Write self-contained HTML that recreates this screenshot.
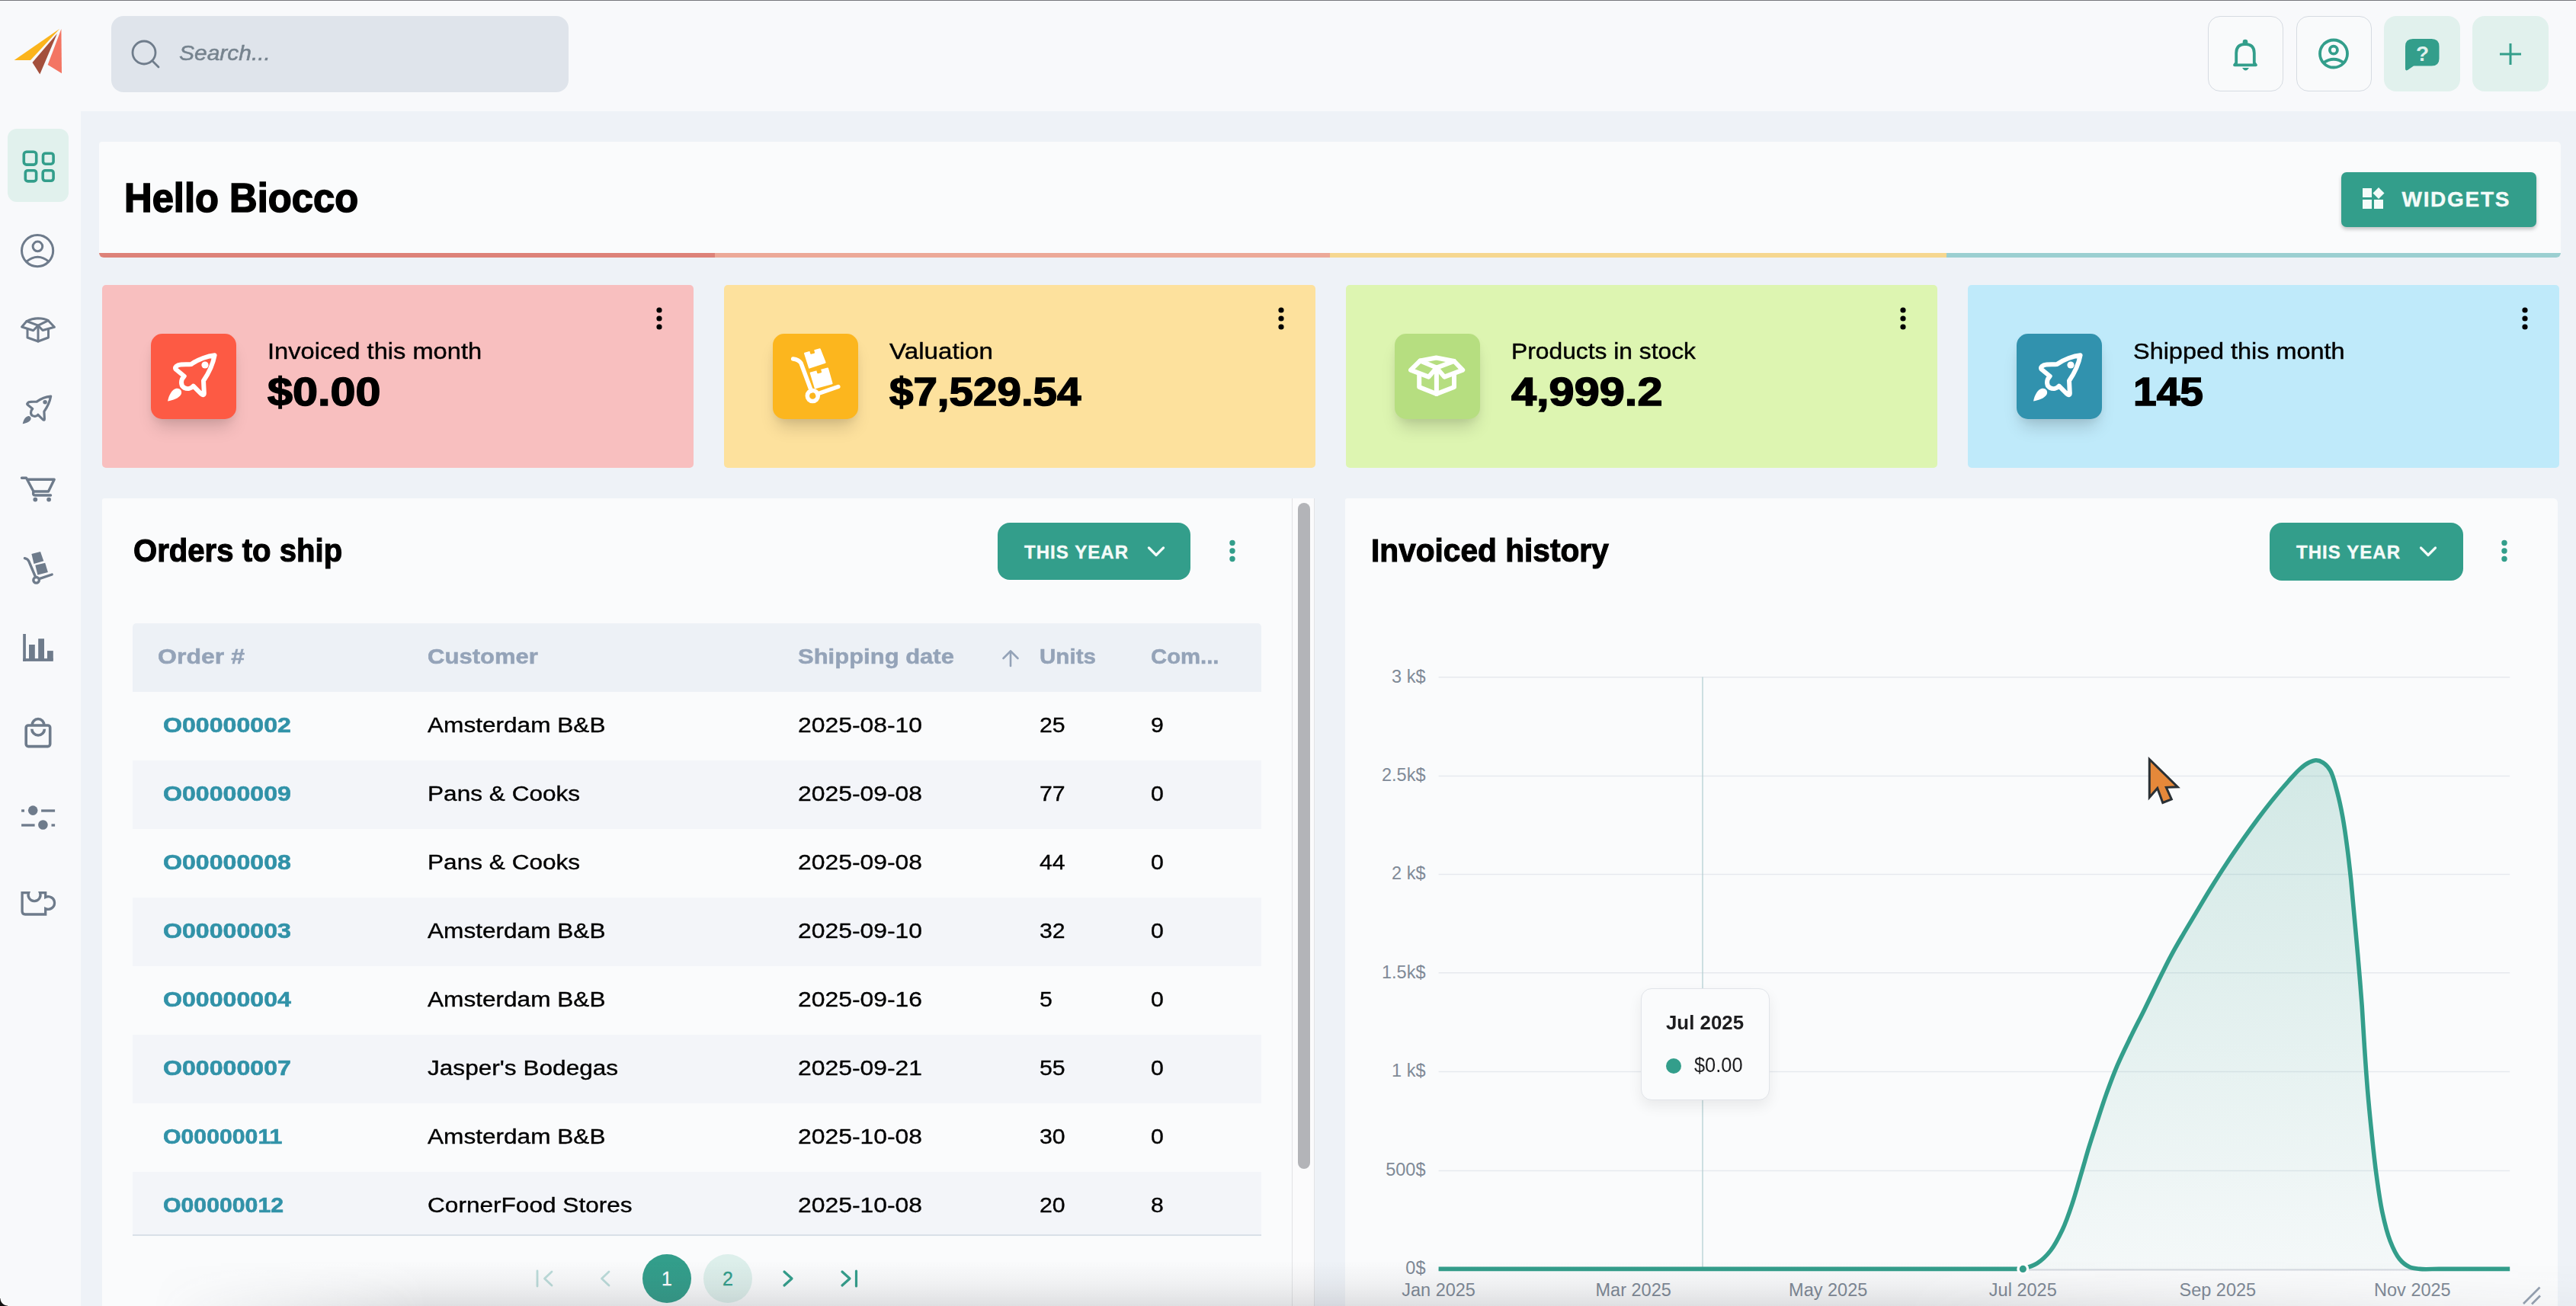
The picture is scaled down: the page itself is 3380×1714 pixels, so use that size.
<!DOCTYPE html><html><head><meta charset="utf-8"><style>
html,body{margin:0;padding:0;width:3380px;height:1714px;overflow:hidden;background:#f8f9fb;font-family:"Liberation Sans",sans-serif;}
.a{position:absolute;}
.t{position:absolute;white-space:nowrap;line-height:1;transform-origin:0 0;}
</style></head><body><div class="a" style="left:0.0px;top:0.0px;width:3380.0px;height:1.2px;background:#77787c"></div>
<div class="a" style="left:106.0px;top:146.0px;width:3274.0px;height:1568.0px;background:#eef2f7"></div>
<svg class="a" style="left:10.0px;top:30.0px;" width="80" height="80" viewBox="0 0 80 80"><polygon points="8.6,49 68.3,7.8 30,49" fill="#fbb41c"/><polygon points="32.5,52 65,14 42.3,67.4" fill="#a34f3c"/><polygon points="52.7,55 70.4,8 71,66.2" fill="#f37563"/></svg>
<div class="a" style="left:146.0px;top:21.0px;width:600.0px;height:100.0px;background:#dfe4eb;border-radius:16px"></div>
<svg class="a" style="left:169.0px;top:50.0px;" width="44" height="44" viewBox="0 0 44 44"><circle cx="20" cy="19" r="15" fill="none" stroke="#6f7c8b" stroke-width="2.8"/><line x1="31" y1="30" x2="39" y2="38" stroke="#6f7c8b" stroke-width="2.8" stroke-linecap="round"/></svg>
<div class="t" style="left:235.0px;top:56.3px;font-size:28px;color:#76838e;font-weight:normal;font-style:italic;transform:scaleX(1.070);-webkit-text-stroke:0.5px #76838e;">Search...</div>
<div class="a" style="left:2897.0px;top:21.0px;width:99.0px;height:99.0px;box-sizing:border-box;border:1.5px solid #d6dbe2;border-radius:16px;background:#f9fafb"></div>
<div class="a" style="left:3013.0px;top:21.0px;width:99.0px;height:99.0px;box-sizing:border-box;border:1.5px solid #d6dbe2;border-radius:16px;background:#f9fafb"></div>
<div class="a" style="left:3128.0px;top:21.0px;width:100.0px;height:99.0px;background:#e1f1ed;border-radius:16px"></div>
<div class="a" style="left:3244.0px;top:21.0px;width:100.0px;height:99.0px;background:#e1f1ed;border-radius:16px"></div>
<svg class="a" style="left:2897.0px;top:21.0px;" width="99" height="99" viewBox="0 0 99 99"><path d="M35 64.3 L37.2 61.5 L37.2 56 L37.2 48.5 Q37.2 37 49 36.8 Q60.8 37 60.8 48.5 L60.8 56 L60.8 61.5 L63 64.3 Z" fill="none" stroke="#339e8b" stroke-width="3.8" stroke-linejoin="round"/><circle cx="49" cy="34" r="3.3" fill="#339e8b"/><path d="M45 68 Q49.5 75 54 68 Z" fill="#339e8b"/></svg>
<svg class="a" style="left:3013.0px;top:21.0px;" width="99" height="99" viewBox="0 0 99 99"><circle cx="49" cy="49.5" r="18" fill="none" stroke="#339e8b" stroke-width="3.8"/><circle cx="48.9" cy="44.7" r="5" fill="none" stroke="#339e8b" stroke-width="3.8"/><path d="M35.5 61.5 Q49 52 62.5 61.5" fill="none" stroke="#339e8b" stroke-width="3.8"/></svg>
<svg class="a" style="left:3128.0px;top:21.0px;" width="100" height="99" viewBox="0 0 100 99"><path d="M28 40 Q28 30 38 30 L62.5 30 Q72.5 30 72.5 40 L72.5 56 Q72.5 65.5 62.5 65.5 L39 65.5 L31 71 Q28 72.5 28 69 Z" fill="#339e8b"/><text x="50.5" y="58.5" font-family="Liberation Sans" font-weight="bold" font-size="28" fill="#e1f1ed" text-anchor="middle">?</text></svg>
<svg class="a" style="left:3244.0px;top:21.0px;" width="100" height="99" viewBox="0 0 100 99"><line x1="36" y1="50" x2="64" y2="50" stroke="#339e8b" stroke-width="3"/><line x1="50" y1="36" x2="50" y2="64" stroke="#339e8b" stroke-width="3"/></svg>
<div class="a" style="left:10.0px;top:169.0px;width:80.0px;height:96.0px;background:#e1f1ed;border-radius:12px"></div>
<svg class="a" style="left:0;top:0" width="106" height="1300" viewBox="0 0 106 1300"><g fill="none" stroke="#339e8b" stroke-width="3.6"><rect x="31.3" y="199.3" width="16.4" height="16.8" rx="3.5"/><rect x="56.5" y="201.2" width="13.6" height="14" rx="3.2"/><rect x="33.3" y="223.7" width="14.3" height="14.2" rx="3.2"/><rect x="56.2" y="223.7" width="13.9" height="13.6" rx="3.2"/></g><g fill="none" stroke="#6e7b8b" stroke-width="3"><circle cx="49.1" cy="329.1" r="20.6"/><circle cx="49.4" cy="323.4" r="6.3"/><path d="M34.5 343.5 Q49.4 331 64.3 343.5"/></g><g fill="none" stroke="#6e7b8b" stroke-width="3" stroke-linejoin="round" stroke-linecap="round"><path d="M28.6 429 L35 421.5 Q42 418 50 417.8 Q58 418 63.3 420.7 L71.4 429.3 L56 433.5 L50 427.2 L43.7 433.7 Z"/><path d="M35 421.5 L50 427.2 L63.3 420.7"/><path d="M36 432.5 L36 443 L50 448 L63.5 443 L63.5 432.5"/><path d="M50 427.2 L50 448"/></g><g transform="translate(16.5 503.1) scale(0.6)"><path d="M83.6 28.3 C75 29 62 33.5 53 40 C49 40.5 43 40 39 40.5 C34 41 31 44 32.5 46.5 L43.7 55.7 C39 60 38.5 68 44 71 C48 73 53 72 55.7 68.6 L66 79 C68 81 70 80.5 69.8 77.5 L69 61.7 C75 53 81 42 83.6 28.3 Z" fill="none" stroke="#6e7b8b" stroke-width="5.3" stroke-linejoin="round"/><circle cx="71" cy="41" r="4.6" fill="#6e7b8b"/><path d="M22 88.5 C23.5 81 27.5 73 33.5 71.8 C38.5 71 41.5 75.5 39.5 79.8 C36.5 85 29 87.2 22 88.5 Z" fill="#6e7b8b"/></g><g fill="none" stroke="#6e7b8b" stroke-width="3.4" stroke-linejoin="round" stroke-linecap="round"><path d="M28.5 627.3 L34.5 627.3 L44 645 L63.5 645 L71.2 629.3 L36 629.3"/><path d="M44 645 Q42.5 650 46 650 L66.5 650"/></g><circle cx="46.3" cy="655.6" r="2.9" fill="#6e7b8b"/><circle cx="64.1" cy="655.6" r="2.9" fill="#6e7b8b"/><g fill="none" stroke="#6e7b8b" stroke-width="3.3" stroke-linecap="round"><path d="M32.4 732.6 Q36.5 733.5 37.8 736.5 L46.5 757"/><circle cx="47.6" cy="761.3" r="3.8"/><path d="M51.5 759.6 L68.2 754"/></g><polygon points="41.4,727 53,724 57.3,736.2 44.5,739.9" fill="#6e7b8b"/><polygon points="46.3,741.7 59.2,738.7 62.9,750.9 49.4,754.6" fill="#6e7b8b"/><g fill="#6e7b8b"><rect x="30.2" y="832" width="3.7" height="36"/><rect x="30.2" y="864.2" width="39.6" height="3.7"/><rect x="38" y="846" width="7.8" height="20"/><rect x="50.2" y="838.2" width="7.8" height="28"/><rect x="62" y="854.1" width="7.8" height="12"/></g><g fill="none" stroke="#6e7b8b" stroke-width="3.6"><rect x="34.2" y="952" width="31.5" height="27.6" rx="3"/><path d="M42 952 A8 8.5 0 0 1 58 952"/><path d="M41.8 956.7 A8.3 8.3 0 0 0 58.4 956.7"/></g><g stroke="#6e7b8b" stroke-width="3.3"><line x1="28.1" y1="1064" x2="32" y2="1064"/><line x1="54.1" y1="1064" x2="72.1" y2="1064"/><line x1="28.1" y1="1083" x2="45.6" y2="1083"/><line x1="67.5" y1="1083" x2="72.1" y2="1083"/></g><circle cx="43.2" cy="1063.6" r="6.3" fill="#6e7b8b"/><circle cx="56.4" cy="1082.5" r="6.3" fill="#6e7b8b"/><path d="M29.1 1171.7 L37.6 1171.7 A8 8 0 1 0 52.5 1171.7 L59.7 1171.7 L59.7 1177.5 A8.3 8.3 0 1 1 59.7 1192.5 L59.7 1200 L33 1200 Q29.1 1200 29.1 1196 Z" fill="none" stroke="#6e7b8b" stroke-width="3.3" stroke-linejoin="miter"/></svg>
<div class="a" style="left:130.0px;top:186.0px;width:3230.0px;height:152.0px;background:#fafbfc;border-radius:4px 5px 6px 6px;overflow:hidden"></div>
<div class="a" style="left:130.0px;top:332.0px;width:808.0px;height:6.0px;background:#dd8279;border-radius:0 0 0 6px"></div>
<div class="a" style="left:938.0px;top:332.0px;width:807.0px;height:6.0px;background:#eca998"></div>
<div class="a" style="left:1745.0px;top:332.0px;width:809.0px;height:6.0px;background:#f6d790"></div>
<div class="a" style="left:2554.0px;top:332.0px;width:806.0px;height:6.0px;background:#9bcfd1;border-radius:0 0 6px 0"></div>
<div class="t" style="left:163.0px;top:233.1px;font-size:53px;color:#000;font-weight:bold;font-style:normal;transform:scaleX(0.957);-webkit-text-stroke:1.6px #000;">Hello Biocco</div>
<div class="a" style="left:3072.0px;top:226.0px;width:256.0px;height:72.0px;background:#339e8b;border-radius:7px;box-shadow:0 3px 5px rgba(0,0,0,0.22)"></div>
<svg class="a" style="left:3100.0px;top:246.0px;" width="29" height="29" viewBox="0 0 29 29"><rect x="0" y="1" width="12" height="12" fill="#f4fbf9"/><rect x="0" y="16" width="12" height="12" fill="#f4fbf9"/><rect x="15" y="16" width="12" height="12" fill="#f4fbf9"/><polygon points="21,0 28.5,7.5 21,15 13.5,7.5" fill="#f4fbf9"/></svg>
<div class="t" style="left:3151.5px;top:247.8px;font-size:28px;color:#f4fbf9;font-weight:bold;font-style:normal;-webkit-text-stroke:0.4px #f4fbf9;letter-spacing:1.7px;">WIDGETS</div>
<div class="a" style="left:134.0px;top:374.0px;width:776.0px;height:240.0px;background:#f8bfbf;border-radius:5px"></div>
<div class="a" style="left:198.0px;top:438.0px;width:112.0px;height:112.0px;background:#fd5a44;border-radius:15px;box-shadow:0 16px 22px -6px rgba(0,0,0,0.17),0 4px 8px rgba(0,0,0,0.04)"></div>
<svg class="a" style="left:198.0px;top:438.0px;" width="112" height="112" viewBox="0 0 112 112"><path d="M83.6 28.3 C75 29 62 33.5 53 40 C49 40.5 43 40 39 40.5 C34 41 31 44 32.5 46.5 L43.7 55.7 C39 60 38.5 68 44 71 C48 73 53 72 55.7 68.6 L66 79 C68 81 70 80.5 69.8 77.5 L69 61.7 C75 53 81 42 83.6 28.3 Z" fill="none" stroke="#fff" stroke-width="6" stroke-linejoin="round"/><circle cx="71" cy="41" r="4.6" fill="#fff"/><path d="M22 88.5 C23.5 81 27.5 73 33.5 71.8 C38.5 71 41.5 75.5 39.5 79.8 C36.5 85 29 87.2 22 88.5 Z" fill="#fff"/></svg>
<div class="t" style="left:351.0px;top:446.5px;font-size:29px;color:#000;font-weight:normal;font-style:normal;transform:scaleX(1.125);-webkit-text-stroke:0.4px #000;">Invoiced this month</div>
<div class="t" style="left:351.0px;top:488.0px;font-size:52px;color:#000;font-weight:bold;font-style:normal;transform:scaleX(1.141);-webkit-text-stroke:1.5px #000;">$0.00</div>
<svg class="a" style="left:859.0px;top:403.0px;" width="12" height="30" viewBox="0 0 12 30"><circle cx="6" cy="4" r="3.6" fill="#000"/><circle cx="6" cy="15" r="3.6" fill="#000"/><circle cx="6" cy="26" r="3.6" fill="#000"/></svg>
<div class="a" style="left:950.0px;top:374.0px;width:776.0px;height:240.0px;background:#fde19d;border-radius:5px"></div>
<div class="a" style="left:1014.0px;top:438.0px;width:112.0px;height:112.0px;background:#fcb61e;border-radius:15px;box-shadow:0 16px 22px -6px rgba(0,0,0,0.17),0 4px 8px rgba(0,0,0,0.04)"></div>
<svg class="a" style="left:1014.0px;top:438.0px;" width="112" height="112" viewBox="0 0 112 112"><g fill="none" stroke="#fff" stroke-width="5.5" stroke-linecap="round"><path d="M26.6 33 Q34 34 37 38.5 L50.5 75"/><circle cx="52.3" cy="81.5" r="7"/><path d="M58.5 79 L85.8 69.5"/></g><polygon points="42,25.7 61.7,20.2 68.6,37.7 48,44.6" fill="#fff" stroke="#fff" stroke-width="2" stroke-linejoin="round"/><polygon points="49.7,51.5 72,45.5 77.6,65.2 55.7,71.2" fill="#fff" stroke="#fff" stroke-width="2" stroke-linejoin="round"/><rect x="-3" y="-3" width="6" height="6" rx="1" fill="#fcb61e" transform="translate(51.6 23.3) rotate(-15)"/><rect x="-3" y="-3" width="6" height="6" rx="1" fill="#fcb61e" transform="translate(60.6 48.9) rotate(-15)"/></svg>
<div class="t" style="left:1167.0px;top:446.5px;font-size:29px;color:#000;font-weight:normal;font-style:normal;transform:scaleX(1.145);-webkit-text-stroke:0.4px #000;">Valuation</div>
<div class="t" style="left:1167.0px;top:488.0px;font-size:52px;color:#000;font-weight:bold;font-style:normal;transform:scaleX(1.087);-webkit-text-stroke:1.5px #000;">$7,529.54</div>
<svg class="a" style="left:1675.0px;top:403.0px;" width="12" height="30" viewBox="0 0 12 30"><circle cx="6" cy="4" r="3.6" fill="#000"/><circle cx="6" cy="15" r="3.6" fill="#000"/><circle cx="6" cy="26" r="3.6" fill="#000"/></svg>
<div class="a" style="left:1766.0px;top:374.0px;width:776.0px;height:240.0px;background:#ddf5b1;border-radius:5px"></div>
<div class="a" style="left:1830.0px;top:438.0px;width:112.0px;height:112.0px;background:#b6de80;border-radius:15px;box-shadow:0 16px 22px -6px rgba(0,0,0,0.17),0 4px 8px rgba(0,0,0,0.04)"></div>
<svg class="a" style="left:1830.0px;top:438.0px;" width="112" height="112" viewBox="0 0 112 112"><g fill="none" stroke="#fff" stroke-width="6" stroke-linejoin="round" stroke-linecap="round"><path d="M54.9 44.6 L54.9 78.9"/><path d="M32.2 54 L32.2 70 L54.9 79 L78 70 L78 54"/><path d="M21 47.6 L33.4 35.5 L54.5 31.5 L78 36 L89.2 47.6 L65.2 56.6 L54.9 44.6 L44.6 56.6 Z"/><path d="M33.4 35.5 L54.9 44.6 L78 36"/></g></svg>
<div class="t" style="left:1983.0px;top:446.5px;font-size:29px;color:#000;font-weight:normal;font-style:normal;transform:scaleX(1.096);-webkit-text-stroke:0.4px #000;">Products in stock</div>
<div class="t" style="left:1983.0px;top:488.0px;font-size:52px;color:#000;font-weight:bold;font-style:normal;transform:scaleX(1.144);-webkit-text-stroke:1.5px #000;">4,999.2</div>
<svg class="a" style="left:2491.0px;top:403.0px;" width="12" height="30" viewBox="0 0 12 30"><circle cx="6" cy="4" r="3.6" fill="#000"/><circle cx="6" cy="15" r="3.6" fill="#000"/><circle cx="6" cy="26" r="3.6" fill="#000"/></svg>
<div class="a" style="left:2582.0px;top:374.0px;width:776.0px;height:240.0px;background:#bfeafa;border-radius:5px"></div>
<div class="a" style="left:2646.0px;top:438.0px;width:112.0px;height:112.0px;background:#3192ae;border-radius:15px;box-shadow:0 16px 22px -6px rgba(0,0,0,0.17),0 4px 8px rgba(0,0,0,0.04)"></div>
<svg class="a" style="left:2646.0px;top:438.0px;" width="112" height="112" viewBox="0 0 112 112"><path d="M83.6 28.3 C75 29 62 33.5 53 40 C49 40.5 43 40 39 40.5 C34 41 31 44 32.5 46.5 L43.7 55.7 C39 60 38.5 68 44 71 C48 73 53 72 55.7 68.6 L66 79 C68 81 70 80.5 69.8 77.5 L69 61.7 C75 53 81 42 83.6 28.3 Z" fill="none" stroke="#fff" stroke-width="6" stroke-linejoin="round"/><circle cx="71" cy="41" r="4.6" fill="#fff"/><path d="M22 88.5 C23.5 81 27.5 73 33.5 71.8 C38.5 71 41.5 75.5 39.5 79.8 C36.5 85 29 87.2 22 88.5 Z" fill="#fff"/></svg>
<div class="t" style="left:2799.0px;top:446.5px;font-size:29px;color:#000;font-weight:normal;font-style:normal;transform:scaleX(1.118);-webkit-text-stroke:0.4px #000;">Shipped this month</div>
<div class="t" style="left:2799.0px;top:488.0px;font-size:52px;color:#000;font-weight:bold;font-style:normal;transform:scaleX(1.061);-webkit-text-stroke:1.5px #000;">145</div>
<svg class="a" style="left:3307.0px;top:403.0px;" width="12" height="30" viewBox="0 0 12 30"><circle cx="6" cy="4" r="3.6" fill="#000"/><circle cx="6" cy="15" r="3.6" fill="#000"/><circle cx="6" cy="26" r="3.6" fill="#000"/></svg>
<div class="a" style="left:134.0px;top:654.0px;width:1561.0px;height:1100.0px;background:#fafbfc;border-radius:3px 0 0 0"></div>
<div class="t" style="left:175.4px;top:701.9px;font-size:42px;color:#000;font-weight:bold;font-style:normal;transform:scaleX(0.955);-webkit-text-stroke:1.1px #000;">Orders to ship</div>
<div class="a" style="left:1309.0px;top:686.0px;width:253.0px;height:75.0px;background:#339e8b;border-radius:16px"></div>
<div class="t" style="left:1344.0px;top:713.2px;font-size:24px;color:#f4fbf9;font-weight:bold;font-style:normal;-webkit-text-stroke:0.4px #f4fbf9;letter-spacing:1.05px;">THIS YEAR</div>
<svg class="a" style="left:1504.5px;top:716.0px;" width="24" height="16" viewBox="0 0 24 16"><polyline points="2.5,3 12,12.5 21.5,3" fill="none" stroke="#f4fbf9" stroke-width="3.2" stroke-linecap="round" stroke-linejoin="round"/></svg>
<svg class="a" style="left:1611.0px;top:708.0px;" width="12" height="32" viewBox="0 0 12 32"><circle cx="6" cy="4.5" r="3.7" fill="#339e8b"/><circle cx="6" cy="15" r="3.7" fill="#339e8b"/><circle cx="6" cy="25.5" r="3.7" fill="#339e8b"/></svg>
<div class="a" style="left:174.0px;top:818.0px;width:1481.0px;height:90.0px;background:#edf1f6;border-radius:5px 5px 0 0"></div>
<div class="t" style="left:207.0px;top:848.3px;font-size:28px;color:#94a3b8;font-weight:bold;font-style:normal;transform:scaleX(1.144);-webkit-text-stroke:0.5px #94a3b8;">Order #</div>
<div class="t" style="left:560.5px;top:848.3px;font-size:28px;color:#94a3b8;font-weight:bold;font-style:normal;transform:scaleX(1.109);-webkit-text-stroke:0.5px #94a3b8;">Customer</div>
<div class="t" style="left:1047.4px;top:848.3px;font-size:28px;color:#94a3b8;font-weight:bold;font-style:normal;transform:scaleX(1.107);-webkit-text-stroke:0.5px #94a3b8;">Shipping date</div>
<div class="t" style="left:1364.3px;top:848.3px;font-size:28px;color:#94a3b8;font-weight:bold;font-style:normal;transform:scaleX(1.057);-webkit-text-stroke:0.5px #94a3b8;">Units</div>
<div class="t" style="left:1510.0px;top:848.3px;font-size:28px;color:#94a3b8;font-weight:bold;font-style:normal;transform:scaleX(1.046);-webkit-text-stroke:0.5px #94a3b8;">Com...</div>
<svg class="a" style="left:1312.0px;top:851.0px;" width="28" height="26" viewBox="0 0 28 26"><g fill="none" stroke="#94a3b8" stroke-width="2.6" stroke-linecap="round" stroke-linejoin="round"><line x1="14" y1="4" x2="14" y2="23"/><polyline points="4.5,13 14,3.5 23.5,13"/></g></svg>
<div class="t" style="left:213.9px;top:938.6px;font-size:27px;color:#3192a8;font-weight:bold;font-style:normal;transform:scaleX(1.190);-webkit-text-stroke:0.6px #3192a8;">O00000002</div>
<div class="t" style="left:560.5px;top:938.6px;font-size:27px;color:#000;font-weight:normal;font-style:normal;transform:scaleX(1.170);-webkit-text-stroke:0.35px #000;">Amsterdam B&amp;B</div>
<div class="t" style="left:1047.4px;top:938.6px;font-size:27px;color:#000;font-weight:normal;font-style:normal;transform:scaleX(1.180);-webkit-text-stroke:0.35px #000;">2025-08-10</div>
<div class="t" style="left:1364.3px;top:938.6px;font-size:27px;color:#000;font-weight:normal;font-style:normal;transform:scaleX(1.120);-webkit-text-stroke:0.35px #000;">25</div>
<div class="t" style="left:1510.0px;top:938.6px;font-size:27px;color:#000;font-weight:normal;font-style:normal;transform:scaleX(1.120);-webkit-text-stroke:0.35px #000;">9</div>
<div class="a" style="left:174.0px;top:998.0px;width:1481.0px;height:90.0px;background:#f3f5f9"></div>
<div class="t" style="left:213.9px;top:1028.6px;font-size:27px;color:#3192a8;font-weight:bold;font-style:normal;transform:scaleX(1.190);-webkit-text-stroke:0.6px #3192a8;">O00000009</div>
<div class="t" style="left:560.5px;top:1028.6px;font-size:27px;color:#000;font-weight:normal;font-style:normal;transform:scaleX(1.170);-webkit-text-stroke:0.35px #000;">Pans &amp; Cooks</div>
<div class="t" style="left:1047.4px;top:1028.6px;font-size:27px;color:#000;font-weight:normal;font-style:normal;transform:scaleX(1.180);-webkit-text-stroke:0.35px #000;">2025-09-08</div>
<div class="t" style="left:1364.3px;top:1028.6px;font-size:27px;color:#000;font-weight:normal;font-style:normal;transform:scaleX(1.120);-webkit-text-stroke:0.35px #000;">77</div>
<div class="t" style="left:1510.0px;top:1028.6px;font-size:27px;color:#000;font-weight:normal;font-style:normal;transform:scaleX(1.120);-webkit-text-stroke:0.35px #000;">0</div>
<div class="t" style="left:213.9px;top:1118.6px;font-size:27px;color:#3192a8;font-weight:bold;font-style:normal;transform:scaleX(1.190);-webkit-text-stroke:0.6px #3192a8;">O00000008</div>
<div class="t" style="left:560.5px;top:1118.6px;font-size:27px;color:#000;font-weight:normal;font-style:normal;transform:scaleX(1.170);-webkit-text-stroke:0.35px #000;">Pans &amp; Cooks</div>
<div class="t" style="left:1047.4px;top:1118.6px;font-size:27px;color:#000;font-weight:normal;font-style:normal;transform:scaleX(1.180);-webkit-text-stroke:0.35px #000;">2025-09-08</div>
<div class="t" style="left:1364.3px;top:1118.6px;font-size:27px;color:#000;font-weight:normal;font-style:normal;transform:scaleX(1.120);-webkit-text-stroke:0.35px #000;">44</div>
<div class="t" style="left:1510.0px;top:1118.6px;font-size:27px;color:#000;font-weight:normal;font-style:normal;transform:scaleX(1.120);-webkit-text-stroke:0.35px #000;">0</div>
<div class="a" style="left:174.0px;top:1178.0px;width:1481.0px;height:90.0px;background:#f3f5f9"></div>
<div class="t" style="left:213.9px;top:1208.6px;font-size:27px;color:#3192a8;font-weight:bold;font-style:normal;transform:scaleX(1.190);-webkit-text-stroke:0.6px #3192a8;">O00000003</div>
<div class="t" style="left:560.5px;top:1208.6px;font-size:27px;color:#000;font-weight:normal;font-style:normal;transform:scaleX(1.170);-webkit-text-stroke:0.35px #000;">Amsterdam B&amp;B</div>
<div class="t" style="left:1047.4px;top:1208.6px;font-size:27px;color:#000;font-weight:normal;font-style:normal;transform:scaleX(1.180);-webkit-text-stroke:0.35px #000;">2025-09-10</div>
<div class="t" style="left:1364.3px;top:1208.6px;font-size:27px;color:#000;font-weight:normal;font-style:normal;transform:scaleX(1.120);-webkit-text-stroke:0.35px #000;">32</div>
<div class="t" style="left:1510.0px;top:1208.6px;font-size:27px;color:#000;font-weight:normal;font-style:normal;transform:scaleX(1.120);-webkit-text-stroke:0.35px #000;">0</div>
<div class="t" style="left:213.9px;top:1298.6px;font-size:27px;color:#3192a8;font-weight:bold;font-style:normal;transform:scaleX(1.190);-webkit-text-stroke:0.6px #3192a8;">O00000004</div>
<div class="t" style="left:560.5px;top:1298.6px;font-size:27px;color:#000;font-weight:normal;font-style:normal;transform:scaleX(1.170);-webkit-text-stroke:0.35px #000;">Amsterdam B&amp;B</div>
<div class="t" style="left:1047.4px;top:1298.6px;font-size:27px;color:#000;font-weight:normal;font-style:normal;transform:scaleX(1.180);-webkit-text-stroke:0.35px #000;">2025-09-16</div>
<div class="t" style="left:1364.3px;top:1298.6px;font-size:27px;color:#000;font-weight:normal;font-style:normal;transform:scaleX(1.120);-webkit-text-stroke:0.35px #000;">5</div>
<div class="t" style="left:1510.0px;top:1298.6px;font-size:27px;color:#000;font-weight:normal;font-style:normal;transform:scaleX(1.120);-webkit-text-stroke:0.35px #000;">0</div>
<div class="a" style="left:174.0px;top:1358.0px;width:1481.0px;height:90.0px;background:#f3f5f9"></div>
<div class="t" style="left:213.9px;top:1388.6px;font-size:27px;color:#3192a8;font-weight:bold;font-style:normal;transform:scaleX(1.190);-webkit-text-stroke:0.6px #3192a8;">O00000007</div>
<div class="t" style="left:560.5px;top:1388.6px;font-size:27px;color:#000;font-weight:normal;font-style:normal;transform:scaleX(1.170);-webkit-text-stroke:0.35px #000;">Jasper's Bodegas</div>
<div class="t" style="left:1047.4px;top:1388.6px;font-size:27px;color:#000;font-weight:normal;font-style:normal;transform:scaleX(1.180);-webkit-text-stroke:0.35px #000;">2025-09-21</div>
<div class="t" style="left:1364.3px;top:1388.6px;font-size:27px;color:#000;font-weight:normal;font-style:normal;transform:scaleX(1.120);-webkit-text-stroke:0.35px #000;">55</div>
<div class="t" style="left:1510.0px;top:1388.6px;font-size:27px;color:#000;font-weight:normal;font-style:normal;transform:scaleX(1.120);-webkit-text-stroke:0.35px #000;">0</div>
<div class="t" style="left:213.9px;top:1478.6px;font-size:27px;color:#3192a8;font-weight:bold;font-style:normal;transform:scaleX(1.120);-webkit-text-stroke:0.6px #3192a8;">O00000011</div>
<div class="t" style="left:560.5px;top:1478.6px;font-size:27px;color:#000;font-weight:normal;font-style:normal;transform:scaleX(1.170);-webkit-text-stroke:0.35px #000;">Amsterdam B&amp;B</div>
<div class="t" style="left:1047.4px;top:1478.6px;font-size:27px;color:#000;font-weight:normal;font-style:normal;transform:scaleX(1.180);-webkit-text-stroke:0.35px #000;">2025-10-08</div>
<div class="t" style="left:1364.3px;top:1478.6px;font-size:27px;color:#000;font-weight:normal;font-style:normal;transform:scaleX(1.120);-webkit-text-stroke:0.35px #000;">30</div>
<div class="t" style="left:1510.0px;top:1478.6px;font-size:27px;color:#000;font-weight:normal;font-style:normal;transform:scaleX(1.120);-webkit-text-stroke:0.35px #000;">0</div>
<div class="a" style="left:174.0px;top:1538.0px;width:1481.0px;height:82.0px;background:#f3f5f9"></div>
<div class="t" style="left:213.9px;top:1568.6px;font-size:27px;color:#3192a8;font-weight:bold;font-style:normal;transform:scaleX(1.120);-webkit-text-stroke:0.6px #3192a8;">O00000012</div>
<div class="t" style="left:560.5px;top:1568.6px;font-size:27px;color:#000;font-weight:normal;font-style:normal;transform:scaleX(1.170);-webkit-text-stroke:0.35px #000;">CornerFood Stores</div>
<div class="t" style="left:1047.4px;top:1568.6px;font-size:27px;color:#000;font-weight:normal;font-style:normal;transform:scaleX(1.180);-webkit-text-stroke:0.35px #000;">2025-10-08</div>
<div class="t" style="left:1364.3px;top:1568.6px;font-size:27px;color:#000;font-weight:normal;font-style:normal;transform:scaleX(1.120);-webkit-text-stroke:0.35px #000;">20</div>
<div class="t" style="left:1510.0px;top:1568.6px;font-size:27px;color:#000;font-weight:normal;font-style:normal;transform:scaleX(1.120);-webkit-text-stroke:0.35px #000;">8</div>
<div class="a" style="left:174.0px;top:1620.0px;width:1481.0px;height:2.0px;background:#d9e0e8"></div>
<div class="a" style="left:843.0px;top:1646.0px;width:64.0px;height:64.0px;background:#339e8b;border-radius:50%"></div>
<div class="a" style="left:923.0px;top:1646.0px;width:64.0px;height:64.0px;background:#ddefeb;border-radius:50%"></div>
<div class="t" style="left:843px;top:1665.5px;width:64px;text-align:center;font-size:25px;color:#fff;-webkit-text-stroke:0.3px #fff">1</div>
<div class="t" style="left:923px;top:1665.5px;width:64px;text-align:center;font-size:25px;color:#339e8b;-webkit-text-stroke:0.3px #339e8b">2</div>
<svg class="a" style="left:690.0px;top:1660.0px;" width="450" height="36" viewBox="0 0 450 36"><g fill="none" stroke-width="2.8" stroke-linecap="round" stroke-linejoin="round"><g stroke="#bcdcda"><line x1="15" y1="8" x2="15" y2="28"/><polyline points="34,9 24.5,18 34,27"/><polyline points="109,9 99.5,18 109,27"/></g><g stroke="#339e8b" stroke-width="3.2"><polyline points="339,9 349,18 339,27"/><polyline points="415,9 425,18 415,27"/><line x1="433.5" y1="8" x2="433.5" y2="28"/></g></g></svg>
<div class="a" style="left:1695.0px;top:654.0px;width:30.0px;height:1060.0px;box-sizing:border-box;background:#fbfbfc;border-left:1px solid #e2e3e5;border-right:1px solid #e2e3e5"></div>
<div class="a" style="left:1703.0px;top:660.0px;width:16.0px;height:874.0px;background:#b3b4b8;border-radius:8px"></div>
<div class="a" style="left:1765.0px;top:654.0px;width:1591.0px;height:1100.0px;background:#fafbfc;border-radius:3px 6px 0 0"></div>
<div class="t" style="left:1798.8px;top:702.2px;font-size:42px;color:#000;font-weight:bold;font-style:normal;transform:scaleX(0.968);-webkit-text-stroke:1.1px #000;">Invoiced history</div>
<div class="a" style="left:2978.0px;top:686.0px;width:254.0px;height:76.0px;background:#339e8b;border-radius:16px"></div>
<div class="t" style="left:3013.0px;top:713.2px;font-size:24px;color:#f4fbf9;font-weight:bold;font-style:normal;-webkit-text-stroke:0.4px #f4fbf9;letter-spacing:1.05px;">THIS YEAR</div>
<svg class="a" style="left:3173.5px;top:716.0px;" width="24" height="16" viewBox="0 0 24 16"><polyline points="2.5,3 12,12.5 21.5,3" fill="none" stroke="#f4fbf9" stroke-width="3.2" stroke-linecap="round" stroke-linejoin="round"/></svg>
<svg class="a" style="left:3280.0px;top:708.0px;" width="12" height="32" viewBox="0 0 12 32"><circle cx="6" cy="4.5" r="3.7" fill="#339e8b"/><circle cx="6" cy="15" r="3.7" fill="#339e8b"/><circle cx="6" cy="25.5" r="3.7" fill="#339e8b"/></svg>
<svg class="a" style="left:0;top:0" width="3380" height="1714" viewBox="0 0 3380 1714"><line x1="1887.6" y1="888.8" x2="3293.18" y2="888.8" stroke="#e6e9ee" stroke-width="1.5"/><line x1="1887.6" y1="1018.5" x2="3293.18" y2="1018.5" stroke="#e6e9ee" stroke-width="1.5"/><line x1="1887.6" y1="1147.5" x2="3293.18" y2="1147.5" stroke="#e6e9ee" stroke-width="1.5"/><line x1="1887.6" y1="1276.8" x2="3293.18" y2="1276.8" stroke="#e6e9ee" stroke-width="1.5"/><line x1="1887.6" y1="1406.5" x2="3293.18" y2="1406.5" stroke="#e6e9ee" stroke-width="1.5"/><line x1="1887.6" y1="1536.5" x2="3293.18" y2="1536.5" stroke="#e6e9ee" stroke-width="1.5"/><line x1="1887.6" y1="1666.5" x2="3293.18" y2="1666.5" stroke="#d5d9e0" stroke-width="2"/><line x1="2234" y1="888.5" x2="2234" y2="1665" stroke="#b5cfd3" stroke-width="1.3"/><defs><linearGradient id="gf" x1="0" y1="0" x2="0" y2="1"><stop offset="0" stop-color="#339e8b" stop-opacity="0.2"/><stop offset="1" stop-color="#339e8b" stop-opacity="0.03"/></linearGradient></defs><path d="M1887.6 1665.4 L2654.3 1665.4 C2654.3 1665.4 2667.2 1661.6 2673.1 1657.9 C2679.4 1653.8 2685.3 1648.1 2690.5 1641.4 C2696.5 1633.8 2701.4 1623.9 2706.1 1614.0 C2711.1 1603.4 2715.1 1591.4 2719.1 1579.5 C2723.3 1567.2 2726.8 1553.7 2730.5 1541.2 C2734.1 1529.2 2737.3 1517.4 2740.8 1505.9 C2744.2 1494.7 2747.6 1484.4 2751.3 1473.1 C2755.2 1461.1 2759.2 1448.4 2763.6 1436.1 C2768.2 1423.5 2772.8 1410.8 2778.1 1398.4 C2783.3 1386.1 2789.2 1374.2 2795.1 1362.1 C2801.0 1349.9 2807.4 1337.7 2813.5 1325.4 C2819.6 1312.9 2825.8 1299.9 2831.8 1287.8 C2837.5 1276.3 2843.0 1264.8 2848.6 1254.4 C2853.6 1244.9 2858.4 1236.8 2863.7 1227.8 C2869.3 1218.2 2875.2 1208.5 2881.2 1198.4 C2887.7 1187.6 2894.5 1175.8 2901.4 1164.8 C2908.1 1153.9 2915.1 1143.0 2922.0 1132.5 C2928.8 1122.2 2935.7 1112.2 2942.7 1102.2 C2949.5 1092.5 2956.4 1082.9 2963.4 1073.5 C2970.2 1064.5 2977.2 1055.3 2984.1 1047.0 C2990.4 1039.2 2996.9 1031.7 3002.9 1025.0 C3008.1 1019.2 3013.0 1013.3 3018.0 1009.0 C3022.0 1005.5 3026.1 1002.5 3030.0 1000.6 C3033.1 999.1 3036.0 997.8 3039.0 997.8 C3042.0 997.8 3045.2 999.0 3048.0 1000.8 C3051.4 1003.0 3054.8 1006.4 3057.5 1011.0 C3061.5 1017.8 3064.0 1029.6 3066.7 1039.5 C3069.5 1050.0 3071.8 1061.0 3073.9 1072.4 C3076.1 1084.6 3077.9 1097.5 3079.6 1110.6 C3081.5 1124.7 3083.1 1139.2 3084.7 1154.2 C3086.3 1170.4 3087.7 1187.2 3089.3 1204.5 C3091.0 1222.9 3092.8 1242.2 3094.4 1261.4 C3096.1 1281.0 3097.8 1301.3 3099.2 1320.8 C3100.5 1339.6 3101.4 1357.9 3102.6 1376.3 C3103.8 1394.4 3105.0 1412.1 3106.5 1430.2 C3108.0 1448.5 3109.8 1466.9 3111.7 1485.3 C3113.6 1503.7 3115.5 1522.5 3117.9 1540.4 C3120.2 1557.6 3122.5 1575.2 3125.8 1590.7 C3128.7 1604.3 3131.9 1617.8 3136.2 1628.8 C3139.7 1637.8 3143.6 1646.5 3148.5 1652.4 C3152.3 1657.1 3156.8 1660.6 3161.5 1662.8 C3165.7 1664.7 3169.8 1664.9 3175.0 1665.4 C3182.0 1666.1 3191.3 1665.4 3200.0 1665.4 C3209.5 1665.4 3230.0 1665.4 3230.0 1665.4 L3293.18 1665.4 L3293.18 1666 L1887.6 1666 Z" fill="url(#gf)"/><path d="M1887.6 1665.4 L2654.3 1665.4 C2654.3 1665.4 2667.2 1661.6 2673.1 1657.9 C2679.4 1653.8 2685.3 1648.1 2690.5 1641.4 C2696.5 1633.8 2701.4 1623.9 2706.1 1614.0 C2711.1 1603.4 2715.1 1591.4 2719.1 1579.5 C2723.3 1567.2 2726.8 1553.7 2730.5 1541.2 C2734.1 1529.2 2737.3 1517.4 2740.8 1505.9 C2744.2 1494.7 2747.6 1484.4 2751.3 1473.1 C2755.2 1461.1 2759.2 1448.4 2763.6 1436.1 C2768.2 1423.5 2772.8 1410.8 2778.1 1398.4 C2783.3 1386.1 2789.2 1374.2 2795.1 1362.1 C2801.0 1349.9 2807.4 1337.7 2813.5 1325.4 C2819.6 1312.9 2825.8 1299.9 2831.8 1287.8 C2837.5 1276.3 2843.0 1264.8 2848.6 1254.4 C2853.6 1244.9 2858.4 1236.8 2863.7 1227.8 C2869.3 1218.2 2875.2 1208.5 2881.2 1198.4 C2887.7 1187.6 2894.5 1175.8 2901.4 1164.8 C2908.1 1153.9 2915.1 1143.0 2922.0 1132.5 C2928.8 1122.2 2935.7 1112.2 2942.7 1102.2 C2949.5 1092.5 2956.4 1082.9 2963.4 1073.5 C2970.2 1064.5 2977.2 1055.3 2984.1 1047.0 C2990.4 1039.2 2996.9 1031.7 3002.9 1025.0 C3008.1 1019.2 3013.0 1013.3 3018.0 1009.0 C3022.0 1005.5 3026.1 1002.5 3030.0 1000.6 C3033.1 999.1 3036.0 997.8 3039.0 997.8 C3042.0 997.8 3045.2 999.0 3048.0 1000.8 C3051.4 1003.0 3054.8 1006.4 3057.5 1011.0 C3061.5 1017.8 3064.0 1029.6 3066.7 1039.5 C3069.5 1050.0 3071.8 1061.0 3073.9 1072.4 C3076.1 1084.6 3077.9 1097.5 3079.6 1110.6 C3081.5 1124.7 3083.1 1139.2 3084.7 1154.2 C3086.3 1170.4 3087.7 1187.2 3089.3 1204.5 C3091.0 1222.9 3092.8 1242.2 3094.4 1261.4 C3096.1 1281.0 3097.8 1301.3 3099.2 1320.8 C3100.5 1339.6 3101.4 1357.9 3102.6 1376.3 C3103.8 1394.4 3105.0 1412.1 3106.5 1430.2 C3108.0 1448.5 3109.8 1466.9 3111.7 1485.3 C3113.6 1503.7 3115.5 1522.5 3117.9 1540.4 C3120.2 1557.6 3122.5 1575.2 3125.8 1590.7 C3128.7 1604.3 3131.9 1617.8 3136.2 1628.8 C3139.7 1637.8 3143.6 1646.5 3148.5 1652.4 C3152.3 1657.1 3156.8 1660.6 3161.5 1662.8 C3165.7 1664.7 3169.8 1664.9 3175.0 1665.4 C3182.0 1666.1 3191.3 1665.4 3200.0 1665.4 C3209.5 1665.4 3230.0 1665.4 3230.0 1665.4 L3293.18 1665.4" fill="none" stroke="#339e8b" stroke-width="5.6" stroke-linejoin="round" stroke-linecap="butt"/><circle cx="2654.3" cy="1665.4" r="8" fill="#fff"/><circle cx="2654.3" cy="1665.4" r="4.6" fill="#339e8b"/><path d="M2820.3 996.5 L2820.3 1046.5 L2830.8 1034.5 L2837.8 1053.5 L2849.3 1049 L2842.3 1033.3 L2857.3 1032.8 Z" fill="#e5883a" stroke="#2a3035" stroke-width="3" stroke-linejoin="miter"/><g stroke="#95a0b0" stroke-width="2.6"><line x1="3311" y1="1711" x2="3332.5" y2="1689.5"/><line x1="3322" y1="1711.5" x2="3333" y2="1700.5"/></g></svg>
<div class="t" style="left:1670px;width:200.5px;text-align:right;top:876.5px;font-size:23.5px;color:#7f8a97">3 k$</div>
<div class="t" style="left:1670px;width:200.5px;text-align:right;top:1006.2px;font-size:23.5px;color:#7f8a97">2.5k$</div>
<div class="t" style="left:1670px;width:200.5px;text-align:right;top:1135.2px;font-size:23.5px;color:#7f8a97">2 k$</div>
<div class="t" style="left:1670px;width:200.5px;text-align:right;top:1264.5px;font-size:23.5px;color:#7f8a97">1.5k$</div>
<div class="t" style="left:1670px;width:200.5px;text-align:right;top:1394.2px;font-size:23.5px;color:#7f8a97">1 k$</div>
<div class="t" style="left:1670px;width:200.5px;text-align:right;top:1524.2px;font-size:23.5px;color:#7f8a97">500$</div>
<div class="t" style="left:1670px;width:200.5px;text-align:right;top:1653.2px;font-size:23.5px;color:#7f8a97">0$</div>
<div class="t" style="left:1787.6px;width:200px;text-align:center;top:1681.6px;font-size:23.5px;color:#7f8a97">Jan 2025</div>
<div class="t" style="left:2043.2px;width:200px;text-align:center;top:1681.6px;font-size:23.5px;color:#7f8a97">Mar 2025</div>
<div class="t" style="left:2298.7px;width:200px;text-align:center;top:1681.6px;font-size:23.5px;color:#7f8a97">May 2025</div>
<div class="t" style="left:2554.3px;width:200px;text-align:center;top:1681.6px;font-size:23.5px;color:#7f8a97">Jul 2025</div>
<div class="t" style="left:2809.8px;width:200px;text-align:center;top:1681.6px;font-size:23.5px;color:#7f8a97">Sep 2025</div>
<div class="t" style="left:3065.4px;width:200px;text-align:center;top:1681.6px;font-size:23.5px;color:#7f8a97">Nov 2025</div>
<div class="a" style="left:2153.0px;top:1297.0px;width:169.0px;height:146.5px;box-sizing:border-box;background:#fafbfc;border:1.3px solid #e1e4e9;border-radius:14px;box-shadow:0 8px 18px rgba(0,0,0,0.07)"></div>
<div class="t" style="left:2186.0px;top:1329.4px;font-size:26px;color:#1d1d1f;font-weight:bold;font-style:normal;transform:scaleX(0.994);">Jul 2025</div>
<div class="a" style="left:2186.0px;top:1388.6px;width:20.0px;height:20.0px;background:#339e8b;border-radius:50%"></div>
<div class="t" style="left:2222.5px;top:1385.3px;font-size:27px;color:#1d1d1f;font-weight:normal;font-style:normal;transform:scaleX(0.940);">$0.00</div>
<div class="a" style="left:0.0px;top:1655.0px;width:3380.0px;height:59.0px;background:linear-gradient(to bottom,rgba(60,60,70,0),rgba(60,60,70,0.05) 50%,rgba(60,60,70,0.14));-webkit-mask-image:linear-gradient(to right,transparent 0,transparent 200px,#000 560px,#000 2500px,rgba(0,0,0,0.35) 3150px,rgba(0,0,0,0.2) 3380px);"></div>
<div class="a" style="left:0.0px;top:1704.0px;width:10.0px;height:10.0px;background:radial-gradient(circle at 100% 0,transparent 9px,#111 10px)"></div></body></html>
